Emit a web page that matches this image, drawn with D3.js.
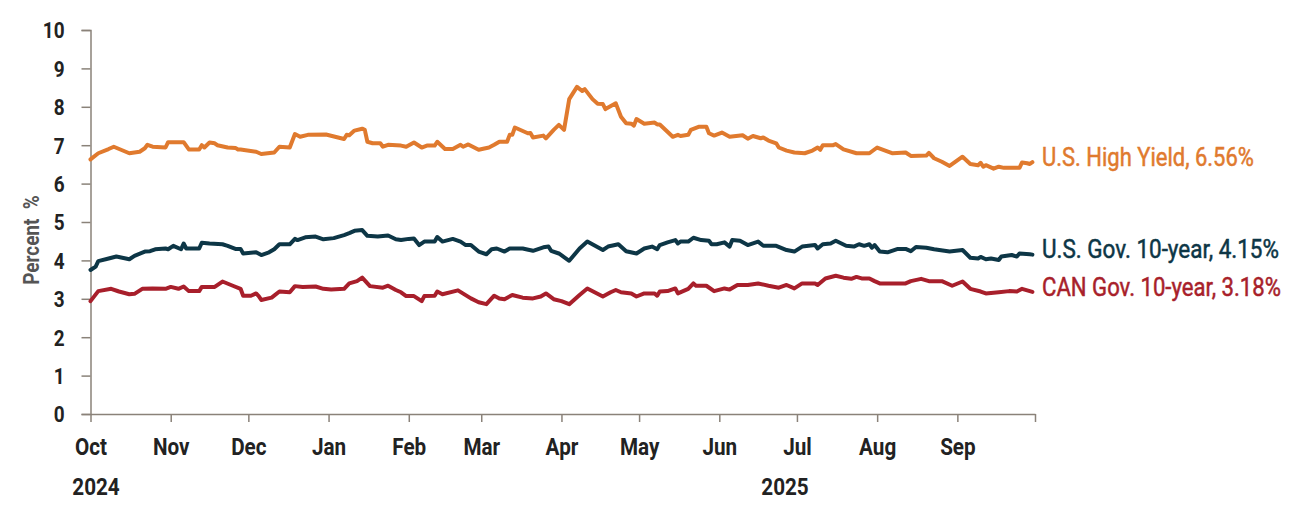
<!DOCTYPE html>
<html>
  <head>
    <meta charset="utf-8">
    <script src="https://d3js.org/d3.v7.min.js"></script>
    <style>
      body { margin: 0; background: #fff; }
      svg text { font-family: Roboto, "Noto Sans", sans-serif; }
    </style>
  </head>
<body>
<script>
// U.S. High Yield
var hyDates = ["2024-10-01","2024-10-04","2024-10-08","2024-10-10","2024-10-16","2024-10-20","2024-10-22","2024-10-23","2024-10-25","2024-10-30","2024-10-31",
  "2024-11-06","2024-11-08","2024-11-12","2024-11-13","2024-11-14","2024-11-16","2024-11-18","2024-11-19","2024-11-23","2024-11-26","2024-11-27","2024-11-28",
  "2024-12-04","2024-12-06","2024-12-11","2024-12-13","2024-12-17","2024-12-19","2024-12-21","2024-12-24","2024-12-31",
  "2025-01-07","2025-01-08","2025-01-09","2025-01-11","2025-01-14","2025-01-15","2025-01-16","2025-01-18","2025-01-21","2025-01-22","2025-01-24","2025-01-29","2025-01-31",
  "2025-02-03","2025-02-06","2025-02-08","2025-02-11","2025-02-12","2025-02-15","2025-02-18","2025-02-21","2025-02-22","2025-02-24","2025-02-28",
  "2025-03-04","2025-03-06","2025-03-08","2025-03-11","2025-03-12","2025-03-13","2025-03-14","2025-03-19","2025-03-20","2025-03-21","2025-03-25","2025-03-26","2025-03-29","2025-03-31",
  "2025-04-02","2025-04-04","2025-04-07","2025-04-09","2025-04-10","2025-04-13","2025-04-15","2025-04-17","2025-04-18","2025-04-22","2025-04-24","2025-04-26","2025-04-28","2025-04-29","2025-04-30",
  "2025-05-03","2025-05-07","2025-05-08","2025-05-09","2025-05-14","2025-05-16","2025-05-17","2025-05-20","2025-05-21","2025-05-24","2025-05-27","2025-05-28","2025-05-30",
  "2025-06-02","2025-06-05","2025-06-10","2025-06-12","2025-06-14","2025-06-17","2025-06-18","2025-06-20","2025-06-23","2025-06-24","2025-06-27","2025-06-30",
  "2025-07-04","2025-07-07","2025-07-09","2025-07-10","2025-07-11","2025-07-15","2025-07-16","2025-07-19","2025-07-24","2025-07-29",
  "2025-08-01","2025-08-07","2025-08-12","2025-08-14","2025-08-20","2025-08-21","2025-08-23","2025-08-26","2025-08-29",
  "2025-09-03","2025-09-06","2025-09-09","2025-09-10","2025-09-11","2025-09-12","2025-09-15","2025-09-17","2025-09-19","2025-09-25","2025-09-26","2025-09-28","2025-09-29","2025-09-30"];
var hyValues = [6.63,6.79,6.90,6.96,6.79,6.83,6.92,7.01,6.96,6.94,7.08,
  7.08,6.89,6.89,7.00,6.94,7.07,7.05,7.00,6.94,6.93,6.89,6.89,
  6.83,6.77,6.81,6.96,6.94,7.29,7.22,7.27,7.28,
  7.16,7.27,7.26,7.38,7.43,7.40,7.09,7.05,7.05,6.96,7.01,6.99,6.96,
  7.07,6.94,6.99,6.99,7.09,6.90,6.90,7.01,6.96,7.02,6.88,
  6.94,7.01,7.09,7.09,7.27,7.27,7.46,7.31,7.32,7.20,7.25,7.18,7.40,7.53,
  7.40,8.20,8.52,8.41,8.46,8.20,8.08,8.07,7.94,8.09,7.74,7.57,7.56,7.51,7.68,
  7.56,7.59,7.54,7.54,7.22,7.27,7.24,7.27,7.40,7.48,7.48,7.31,7.25,
  7.33,7.22,7.26,7.17,7.24,7.18,7.20,7.12,7.05,6.94,6.86,6.81,
  6.79,6.86,6.94,6.88,7.00,7.00,7.03,6.89,6.79,6.79,
  6.94,6.79,6.81,6.72,6.73,6.80,6.66,6.57,6.46,
  6.70,6.51,6.48,6.54,6.44,6.48,6.39,6.44,6.41,6.41,6.55,6.53,6.51,6.56];

// U.S. Gov. 10-year
var ustDates = ["2024-10-01","2024-10-03","2024-10-04","2024-10-08","2024-10-11","2024-10-16","2024-10-18","2024-10-22","2024-10-24","2024-10-26","2024-10-30","2024-10-31",
  "2024-11-02","2024-11-05","2024-11-06","2024-11-07","2024-11-12","2024-11-13","2024-11-16","2024-11-21","2024-11-23","2024-11-26","2024-11-28","2024-11-29",
  "2024-12-04","2024-12-06","2024-12-09","2024-12-11","2024-12-13","2024-12-17","2024-12-19","2024-12-20","2024-12-23","2024-12-27","2024-12-30",
  "2025-01-03","2025-01-07","2025-01-09","2025-01-11","2025-01-14","2025-01-16","2025-01-20","2025-01-24","2025-01-27","2025-01-29",
  "2025-02-01","2025-02-03","2025-02-05","2025-02-07","2025-02-11","2025-02-12","2025-02-14","2025-02-18","2025-02-21","2025-02-23","2025-02-25","2025-02-28",
  "2025-03-03","2025-03-05","2025-03-07","2025-03-10","2025-03-12","2025-03-17","2025-03-21","2025-03-25","2025-03-27","2025-03-28","2025-03-31",
  "2025-04-04","2025-04-08","2025-04-11","2025-04-17","2025-04-19","2025-04-23","2025-04-26","2025-04-30",
  "2025-05-03","2025-05-06","2025-05-08","2025-05-09","2025-05-12","2025-05-15","2025-05-16","2025-05-17","2025-05-20","2025-05-22","2025-05-25","2025-05-28","2025-05-29","2025-05-31",
  "2025-06-03","2025-06-05","2025-06-06","2025-06-09","2025-06-12","2025-06-16","2025-06-18","2025-06-23","2025-06-27","2025-06-30",
  "2025-07-03","2025-07-08","2025-07-09","2025-07-11","2025-07-14","2025-07-16","2025-07-20","2025-07-23","2025-07-25","2025-07-27","2025-07-29","2025-07-30","2025-07-31",
  "2025-08-02","2025-08-05","2025-08-09","2025-08-12","2025-08-14","2025-08-16","2025-08-20","2025-08-23","2025-08-29",
  "2025-09-03","2025-09-06","2025-09-09","2025-09-10","2025-09-12","2025-09-14","2025-09-17","2025-09-18","2025-09-22","2025-09-24","2025-09-25","2025-09-29","2025-09-30"];
var ustValues = [3.75,3.84,3.98,4.05,4.10,4.03,4.12,4.23,4.24,4.29,4.31,4.29,
  4.38,4.29,4.44,4.31,4.31,4.46,4.44,4.42,4.38,4.30,4.30,4.18,
  4.21,4.14,4.21,4.29,4.42,4.42,4.56,4.53,4.60,4.62,4.55,
  4.58,4.66,4.71,4.77,4.79,4.64,4.62,4.65,4.55,4.53,
  4.56,4.57,4.40,4.49,4.49,4.61,4.49,4.56,4.49,4.40,4.40,4.23,
  4.16,4.29,4.31,4.23,4.31,4.31,4.25,4.34,4.36,4.25,4.18,
  3.99,4.31,4.49,4.27,4.36,4.42,4.24,4.18,
  4.31,4.36,4.29,4.40,4.47,4.53,4.44,4.49,4.49,4.59,4.53,4.51,4.42,4.42,
  4.47,4.36,4.53,4.51,4.40,4.49,4.38,4.38,4.27,4.23,
  4.36,4.40,4.31,4.42,4.44,4.51,4.38,4.36,4.42,4.38,4.42,4.33,4.40,
  4.23,4.21,4.30,4.30,4.24,4.35,4.33,4.29,4.23,
  4.27,4.07,4.05,4.09,4.03,4.05,4.01,4.10,4.14,4.10,4.18,4.16,4.15];

// CAN Gov. 10-year
var canDates = ["2024-10-01","2024-10-04","2024-10-09","2024-10-12","2024-10-16","2024-10-18","2024-10-21","2024-10-25","2024-10-30",
  "2024-11-01","2024-11-04","2024-11-06","2024-11-08","2024-11-12","2024-11-13","2024-11-18","2024-11-21","2024-11-25","2024-11-28","2024-11-29",
  "2024-12-02","2024-12-04","2024-12-05","2024-12-06","2024-12-10","2024-12-13","2024-12-17","2024-12-19","2024-12-22","2024-12-27","2024-12-30",
  "2025-01-02","2025-01-07","2025-01-09","2025-01-12","2025-01-14","2025-01-17","2025-01-22","2025-01-24","2025-01-27","2025-01-29","2025-01-31",
  "2025-02-03","2025-02-06","2025-02-07","2025-02-11","2025-02-12","2025-02-14","2025-02-20","2025-02-25","2025-02-28",
  "2025-03-03","2025-03-06","2025-03-08","2025-03-10","2025-03-13","2025-03-17","2025-03-21","2025-03-24","2025-03-26","2025-03-29",
  "2025-04-01","2025-04-04","2025-04-08","2025-04-11","2025-04-17","2025-04-20","2025-04-22","2025-04-24","2025-04-28","2025-04-30",
  "2025-05-03","2025-05-07","2025-05-08","2025-05-09","2025-05-12","2025-05-15","2025-05-16","2025-05-18","2025-05-20","2025-05-22","2025-05-23","2025-05-27","2025-05-30",
  "2025-06-03","2025-06-05","2025-06-08","2025-06-12","2025-06-16","2025-06-20","2025-06-24","2025-06-27","2025-06-30",
  "2025-07-03","2025-07-08","2025-07-09","2025-07-12","2025-07-16","2025-07-19","2025-07-22","2025-07-24","2025-07-26","2025-07-29","2025-07-31",
  "2025-08-02","2025-08-08","2025-08-12","2025-08-14","2025-08-18","2025-08-21","2025-08-26","2025-08-30",
  "2025-09-03","2025-09-06","2025-09-10","2025-09-12","2025-09-17","2025-09-21","2025-09-24","2025-09-26","2025-09-29","2025-09-30"];
var canValues = [2.94,3.20,3.26,3.19,3.12,3.13,3.26,3.27,3.26,
  3.31,3.26,3.32,3.20,3.20,3.31,3.31,3.45,3.34,3.26,3.08,
  3.08,3.14,3.07,2.97,3.03,3.19,3.17,3.33,3.31,3.32,3.26,
  3.24,3.26,3.40,3.46,3.55,3.33,3.29,3.34,3.23,3.17,3.07,
  3.07,2.94,3.07,3.08,3.19,3.12,3.22,3.01,2.91,
  2.86,3.08,3.01,2.99,3.10,3.03,3.01,3.06,3.14,2.99,
  2.94,2.86,3.10,3.27,3.06,3.17,3.23,3.17,3.14,3.06,
  3.14,3.14,3.08,3.19,3.20,3.27,3.14,3.20,3.26,3.40,3.34,3.34,3.20,
  3.27,3.24,3.36,3.36,3.40,3.34,3.29,3.36,3.27,
  3.40,3.40,3.36,3.53,3.60,3.55,3.52,3.57,3.53,3.53,3.46,
  3.40,3.40,3.40,3.46,3.52,3.46,3.46,3.34,
  3.45,3.26,3.19,3.14,3.17,3.20,3.19,3.26,3.20,3.18];

var seriesNames = ["U.S. High Yield, 6.56%", "U.S. Gov. 10-year, 4.15%", "CAN Gov. 10-year, 3.18%"];
var seriesColors = ["#e07a2e", "#0d3646", "#a81f2b"];
var monthLabels = ["Oct","Nov","Dec","Jan","Feb","Mar","Apr","May","Jun","Jul","Aug","Sep"];
var yTicks = [0,1,2,3,4,5,6,7,8,9,10];

var width = 1295, height = 509;
var parse = d3.timeParse("%Y-%m-%d");

var svg = d3.select("body").append("svg")
    .attr("width", width)
    .attr("height", height);

var x = d3.scaleTime()
    .domain([parse("2024-10-01"), parse("2025-10-01")])
    .range([90.5, 1035]);

var y = d3.scaleLinear()
    .domain([0, 10])
    .range([414, 30]);

var axisColor = "#8a8279";
var textColor = "#222";

// y axis
var yAxis = svg.append("g")
    .attr("transform", "translate(90.5,0)")
    .call(d3.axisLeft(y).tickValues(yTicks).tickSize(9).tickPadding(17));
yAxis.select(".domain").attr("stroke", axisColor).attr("stroke-width", 1.5);
yAxis.selectAll(".tick line").attr("stroke", axisColor).attr("stroke-width", 1.5);
yAxis.selectAll(".tick text")
    .attr("fill", textColor)
    .attr("dy", "0.36em")
    .style("font-size", "22px")
    .style("font-weight", "bold");

// x axis: month ticks plus end tick
var monthTicks = d3.timeMonth.range(parse("2024-10-01"), parse("2025-10-02"));
var xAxis = svg.append("g")
    .attr("transform", "translate(0,414)")
    .call(d3.axisBottom(x).tickValues(monthTicks).tickSize(8).tickSizeOuter(0)
      .tickFormat(function(d, i) { return monthLabels[i] || ""; }).tickPadding(16));
xAxis.select(".domain").attr("stroke", axisColor).attr("stroke-width", 1.5);
xAxis.selectAll(".tick line").attr("stroke", axisColor).attr("stroke-width", 1.5);
xAxis.selectAll(".tick text")
    .attr("fill", textColor)
    .style("font-size", "24px")
    .style("font-weight", "bold");

// year labels
[["2024", 96], ["2025", 785]].forEach(function(yr) {
  svg.append("text")
      .attr("x", yr[1]).attr("y", 495)
      .attr("text-anchor", "middle")
      .attr("fill", textColor)
      .style("font-size", "24px").style("font-weight", "bold")
      .text(yr[0]);
});

// y title
svg.append("text")
    .attr("transform", "translate(39,240) rotate(-90)")
    .attr("text-anchor", "middle")
    .attr("fill", "#555")
    .style("font-size", "22px").style("font-weight", "bold")
    .style("white-space", "pre")
    .text("Percent  %");

// lines
var line = d3.line()
    .x(function(d) { return x(d.date); })
    .y(function(d) { return y(d.value); });

var series = [
  { dates: hyDates, values: hyValues },
  { dates: ustDates, values: ustValues },
  { dates: canDates, values: canValues }
];

series.forEach(function(s, i) {
  var pts = s.dates.map(function(d, j) { return { date: parse(d), value: s.values[j] }; });
  svg.append("path")
      .datum(pts)
      .attr("fill", "none")
      .attr("stroke", seriesColors[i])
      .attr("stroke-width", 4)
      .attr("stroke-linejoin", "round")
      .attr("stroke-linecap", "round")
      .attr("d", line);
});

// squeeze all text a little to mimic the condensed face of the original
svg.selectAll("text").each(function() {
  var w = this.getComputedTextLength();
  if (w > 0) {
    d3.select(this).attr("textLength", w * 0.86).attr("lengthAdjust", "spacingAndGlyphs");
  }
});

// end labels, squeezed with a horizontal scale
var labelY = [166, 258, 296];
var labelW = [212, 237, 239];
seriesNames.forEach(function(n, i) {
  var t = svg.append("text")
      .attr("x", 0)
      .attr("y", 0)
      .attr("fill", seriesColors[i])
      .attr("stroke", seriesColors[i])
      .attr("stroke-width", 0.5)
      .style("font-size", "25px")
      .text(n);
  var w = t.node().getComputedTextLength();
  t.attr("transform", "translate(1042," + labelY[i] + ") scale(" + (labelW[i] / w) + ",1)");
});
</script>
</body>
</html>
